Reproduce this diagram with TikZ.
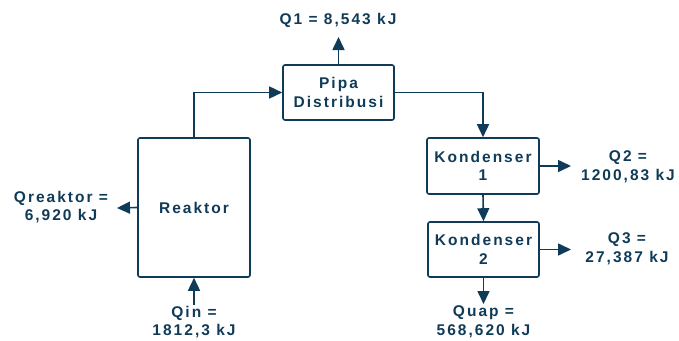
\documentclass[tikz,border=0pt]{standalone}
\usepackage{fontspec}
\newfontfamily\diagfont{Liberation Sans}[LetterSpace=13]
\usetikzlibrary{arrows.meta}
\definecolor{navy}{RGB}{16,59,88}
\tikzset{
  labelfont/.style={font=\diagfont\bfseries\fontsize{15.5}{18.5}\selectfont},
  unit/.style={draw=navy, line width=1.6pt, text=navy, rounded corners=2pt, align=center, inner sep=0pt, labelfont},
  heat/.style={text=navy, align=center, inner sep=0pt, labelfont},
  flow/.style={draw=navy, line width=1.6pt, -{Triangle[width=12pt,length=13pt]}}
}
\begin{document}
\begin{tikzpicture}[x=1pt,y=-1pt]
\useasboundingbox (0,0) rectangle (679,340);
%units
\node[unit, minimum width=112pt, minimum height=139pt] (reaktor) at (194,207.5) {Reaktor};%reactor
\node[unit, minimum width=111pt, minimum height=55pt] (pipa) at (338.5,92.5) {Pipa\\Distribusi};%pipe
\node[unit, minimum width=112pt, minimum height=56pt] (kond1) at (483,166) {Kondenser\\1};%condenser 1
\node[unit, minimum width=111pt, minimum height=55pt] (kond2) at (483.5,249.5) {Kondenser\\2};%condenser 2
%heat labels
\node[heat] (q1) at (338,20) {Q1 = 8,543 kJ};
\node[heat] (qreaktor) at (61,207) {Qreaktor =\\6,920 kJ};
\node[heat] (qin) at (194,322) {Qin =\\1812,3 kJ};
\node[heat] (q2) at (628,167) {Q2 =\\1200,83 kJ};
\node[heat] (q3) at (627,249) {Q3 =\\27,387 kJ};
\node[heat] (quap) at (483.5,322) {Quap =\\568,620 kJ};
%free ends
\coordinate (q1end) at (338.5,37);
\coordinate (qreaktorend) at (117,208);
\coordinate (qinstart) at (194,305);
\coordinate (q2end) at (571,166);
\coordinate (q3end) at (571,249.5);
\coordinate (quapend) at (483.5,304);
%main flow
\draw[flow] (reaktor.north) |- (pipa.west);
\draw[flow] (pipa.east) -| (kond1.north);
\draw[flow] (kond1.south) -- (kond2.north);
%heat flows
\draw[flow] (qinstart) -- (reaktor.south);
\draw[flow] (reaktor.west) -- (qreaktorend);
\draw[flow] (pipa.north) -- (q1end);
\draw[flow] (kond1.east) -- (q2end);
\draw[flow] (kond2.east) -- (q3end);
\draw[flow] (kond2.south) -- (quapend);
\end{tikzpicture}
\end{document}
